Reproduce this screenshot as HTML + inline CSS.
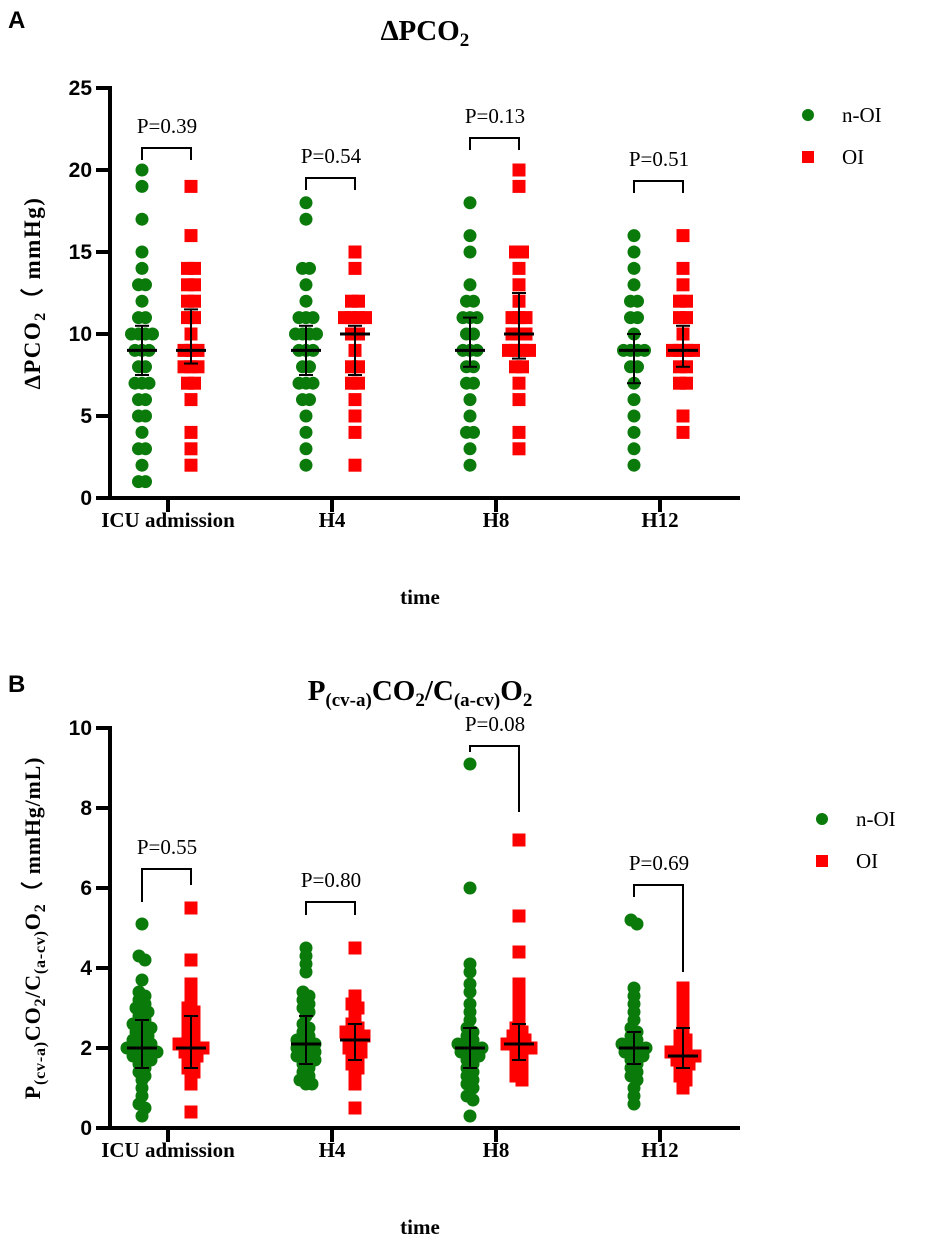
<!DOCTYPE html>
<html><head><meta charset="utf-8">
<style>
body{margin:0;background:#fff;}
svg{display:block;}
.tick{font-family:"Liberation Sans",Arial,sans-serif;font-weight:bold;font-size:21px;}
.ser{font-family:"Liberation Serif",serif;}
</style></head>
<body>
<svg id="chart" width="945" height="1243" viewBox="0 0 945 1243" xmlns="http://www.w3.org/2000/svg"></svg>
<script>
const categories = ["ICU admission","H4","H8","H12"];
// Panel A data (ΔPCO2 mmHg)
const aGreen = [
 [20,19,17,15,14,13,13,12,11,11,10,10,10,10,9,9,9,8,8,7,7,7,6,6,5,5,4,3,3,2,1,1],
 [18,17,14,14,13,12,11,11,11,10,10,10,10,9,9,9,8,8,7,7,7,6,6,5,4,3,2],
 [18,16,15,13,12,12,11,11,11,10,10,9,9,9,8,8,7,7,6,5,4,4,3,2],
 [16,15,14,13,12,12,11,11,10,9,9,9,9,8,8,7,6,5,4,3,2]
];
const aRed = [
 [19,16,14,14,13,13,12,12,11,11,10,9,9,9,8,8,8,7,7,6,4,3,2],
 [15,14,12,12,11,11,11,11,10,10,9,8,8,7,7,6,5,4,2],
 [20,19,15,15,14,13,12,11,11,11,10,10,10,9,9,9,9,8,8,7,6,4,3],
 [16,14,13,12,12,11,11,10,9,9,9,9,8,8,7,7,5,4]
];
const aMedG = [9,9,9,9], aMedR = [9,10,10,9];
const aLoG = [7.5,7.5,8,7], aHiG = [10.5,10.5,11,10];
const aLoR = [8.2,7.5,8.5,8], aHiR = [11.5,10.5,12.5,10.5];
const aP = ["P=0.39","P=0.54","P=0.13","P=0.51"];
const aYTicks = [0,5,10,15,20,25];
// Panel B data
const bGreen = [
 [5.1,4.3,4.2,3.7,3.4,3.3,3.2,3.1,3.0,2.9,2.8,2.7,2.6,2.5,2.5,2.4,2.3,2.2,2.1,2.0,2.0,2.0,1.9,1.9,1.8,1.8,1.7,1.6,1.5,1.4,1.3,1.2,1.0,0.8,0.6,0.5,0.3,2.1,2.2,1.9,2.4,2.6,3.0,1.7],
 [4.5,4.3,4.1,3.9,3.4,3.3,3.2,3.1,3.0,2.9,2.8,2.6,2.4,2.3,2.2,2.1,2.1,2.0,2.0,1.9,1.8,1.8,1.7,1.6,1.5,1.4,1.3,1.2,1.1,1.1,2.2,1.9,2.5,1.7],
 [9.1,6.0,4.1,3.9,3.6,3.4,3.1,2.9,2.7,2.5,2.3,2.2,2.1,2.0,2.0,1.9,1.9,1.8,1.7,1.6,1.5,1.4,1.3,1.2,1.1,1.0,0.8,0.7,0.3,2.0,2.1,1.8,2.4],
 [5.2,5.1,3.5,3.3,3.1,2.9,2.7,2.5,2.4,2.3,2.2,2.1,2.0,2.0,1.9,1.9,1.8,1.7,1.6,1.5,1.4,1.3,1.2,1.0,0.8,0.6,2.0,2.1,1.9]
];
const bRed = [
 [5.5,4.2,3.6,3.4,3.2,3.0,2.9,2.8,2.6,2.5,2.3,2.2,2.1,2.0,2.0,1.9,1.8,1.7,1.6,1.5,1.4,1.3,1.1,0.4,2.0,2.1,1.9,2.8],
 [4.5,3.3,3.1,3.0,2.8,2.6,2.5,2.4,2.3,2.2,2.2,2.1,2.0,1.9,1.8,1.7,1.6,1.5,1.4,1.1,0.5,2.3,2.0,2.4],
 [7.2,5.3,4.4,3.6,3.4,3.2,2.9,2.7,2.5,2.4,2.3,2.2,2.1,2.0,2.0,1.9,1.8,1.7,1.6,1.5,1.4,1.3,1.2,2.2,2.0,2.1],
 [3.5,3.3,3.1,2.9,2.7,2.5,2.3,2.1,2.0,1.9,1.8,1.8,1.7,1.7,1.6,1.5,1.4,1.3,1.2,1.0,1.9,1.8,2.2]
];
const bMedG = [2.0,2.1,2.0,2.0], bMedR = [2.0,2.2,2.1,1.8];
const bLoG = [1.5,1.6,1.5,1.6], bHiG = [2.7,2.8,2.5,2.4];
const bLoR = [1.5,1.7,1.7,1.5], bHiR = [2.8,2.6,2.6,2.5];
const bP = ["P=0.55","P=0.80","P=0.08","P=0.69"];
const bYTicks = [0,2,4,6,8,10];

const NS="http://www.w3.org/2000/svg";
const svg=document.getElementById('chart');
function el(tag,attrs,parent){const e=document.createElementNS(NS,tag);for(const k in attrs)e.setAttribute(k,attrs[k]);(parent||svg).appendChild(e);return e;}
function txt(s,attrs,parent){const e=el('text',attrs,parent);e.textContent=s;return e;}

function swarm(vals,cx,y,d,dx){
  const sorted=vals.slice().sort((a,b)=>b-a);
  const rows=[];
  sorted.forEach(v=>{
    const py=y(v);
    const last=rows[rows.length-1];
    if(last && Math.abs(last.y0-py)<d) last.pts.push(py); else rows.push({y0:py,pts:[py]});
  });
  const out=[];
  rows.forEach(r=>{
    const n=r.pts.length;
    r.pts.forEach((py,k)=>out.push([cx+(k-(n-1)/2)*dx,py]));
  });
  return out;
}

function panel(cfg){
  const g=el('g',{});
  
  
  const y=v=>cfg.y0-(v-cfg.ymin)/(cfg.ymax-cfg.ymin)*(cfg.y0-cfg.ytop);
  const xc=i=>168+i*164;
  const ya=el('line',{x1:110,y1:cfg.ytop-2,x2:110,y2:cfg.y0+2,stroke:'#000','stroke-width':4},g);
  
  const xa=el('line',{x1:108,y1:cfg.y0,x2:740,y2:cfg.y0,stroke:'#000','stroke-width':4},g);
  
  cfg.ticks.forEach(t=>{
    el('line',{x1:96,y1:y(t),x2:110,y2:y(t),stroke:'#000','stroke-width':4},g);
    const tl=txt(String(t),{x:92,y:y(t)+7,'text-anchor':'end',class:'tick'},g);
    
  });
  categories.forEach((c,i)=>{
    el('line',{x1:xc(i),y1:cfg.y0,x2:xc(i),y2:cfg.y0+14,stroke:'#000','stroke-width':4},g);
    const l=txt(c,{x:xc(i),y:cfg.y0+29,'text-anchor':'middle',class:'ser','font-size':'21','font-weight':'bold'},g);
    
    swarm(cfg.green[i],xc(i)-26,y,cfg.d,cfg.dx).forEach(p=>{
      const m=el('circle',{cx:p[0],cy:p[1],r:6.5,fill:'#0a7a0a'},g);
      
    });
    swarm(cfg.red[i],xc(i)+23,y,cfg.d,cfg.dx).forEach(p=>{
      const m=el('rect',{x:p[0]-6.5,y:p[1]-6.5,width:13,height:13,fill:'#ff0000'},g);
      
    });
    [[xc(i)-26,cfg.medG[i],cfg.loG[i],cfg.hiG[i]],[xc(i)+23,cfg.medR[i],cfg.loR[i],cfg.hiR[i]]].forEach(a=>{
      const eb=el('g',{},g);
      
      el('line',{x1:a[0],y1:y(a[2]),x2:a[0],y2:y(a[3]),stroke:'#000','stroke-width':2},eb);
      el('line',{x1:a[0]-15,y1:y(a[1]),x2:a[0]+15,y2:y(a[1]),stroke:'#000','stroke-width':3},eb);
      el('line',{x1:a[0]-7,y1:y(a[2]),x2:a[0]+7,y2:y(a[2]),stroke:'#000','stroke-width':2},eb);
      el('line',{x1:a[0]-7,y1:y(a[3]),x2:a[0]+7,y2:y(a[3]),stroke:'#000','stroke-width':2},eb);
    });
    const br=cfg.br[i];
    const bk=el('path',{d:`M${xc(i)-26},${br[1]} V${br[0]} H${xc(i)+23} V${br[2]}`,fill:'none',stroke:'#000','stroke-width':2},g);
    
    const pt=txt(cfg.p[i],{x:xc(i)-1,y:br[0]-15,'text-anchor':'middle',class:'ser','font-size':'21'},g);
    
  });
  const tt=txt('time',{x:420,y:cfg.y0+106,'text-anchor':'middle',class:'ser','font-size':'21','font-weight':'bold'},g);
  
  const lg=el('g',{},g);
  
  el('circle',{cx:cfg.legX,cy:cfg.legY,r:6,fill:'#0a7a0a'},lg);
  txt('n-OI',{x:cfg.legX+34,y:cfg.legY+7,class:'ser','font-size':'21'},lg);
  el('rect',{x:cfg.legX-6,y:cfg.legY+36,width:12,height:12,fill:'#ff0000'},lg);
  txt('OI',{x:cfg.legX+34,y:cfg.legY+49,class:'ser','font-size':'21'},lg);
}

panel({name:'panel-a',y0:498,ytop:88,ymin:0,ymax:25,ticks:aYTicks,d:8,dx:7,
  green:aGreen,red:aRed,medG:aMedG,medR:aMedR,loG:aLoG,hiG:aHiG,loR:aLoR,hiR:aHiR,p:aP,
  br:[[148,160,160],[178,190,190],[138,150,150],[181,193,193]],legX:808,legY:115});
panel({name:'panel-b',y0:1128,ytop:728,ymin:0,ymax:10,ticks:bYTicks,d:5,dx:6,
  green:bGreen,red:bRed,medG:bMedG,medR:bMedR,loG:bLoG,hiG:bHiG,loR:bLoR,hiR:bHiR,p:bP,
  br:[[869,902,885],[902,915,915],[746,752,812],[885,897,972]],legX:822,legY:819});

let t;
t=txt('A',{x:8,y:28,'font-family':'Liberation Sans, Arial, sans-serif','font-weight':'bold','font-size':'24'});

t=txt('B',{x:8,y:692,'font-family':'Liberation Sans, Arial, sans-serif','font-weight':'bold','font-size':'24'});

t=el('text',{x:425,y:40,'text-anchor':'middle',class:'ser','font-size':'29','font-weight':'bold'});
t.innerHTML='∆PCO<tspan font-size="19" dy="6">2</tspan>';

t=el('text',{x:420,y:700,'text-anchor':'middle',class:'ser','font-size':'29','font-weight':'bold'});
t.innerHTML='P<tspan font-size="19" dy="6">(cv-a)</tspan><tspan dy="-6">CO</tspan><tspan font-size="19" dy="6">2</tspan><tspan dy="-6">/C</tspan><tspan font-size="19" dy="6">(a-cv)</tspan><tspan dy="-6">O</tspan><tspan font-size="19" dy="6">2</tspan>';

t=el('text',{transform:'translate(40,293) rotate(-90)','text-anchor':'middle',class:'ser','font-size':'23','font-weight':'bold','letter-spacing':'1.5'});
t.innerHTML='∆PCO<tspan font-size="16" dy="5">2</tspan><tspan dy="-5">（ mmHg)</tspan>';

t=el('text',{transform:'translate(40,928) rotate(-90)','text-anchor':'middle',class:'ser','font-size':'22','font-weight':'bold','letter-spacing':'0.8'});
t.innerHTML='P<tspan font-size="16" dy="5">(cv-a)</tspan><tspan dy="-5">CO</tspan><tspan font-size="16" dy="5">2</tspan><tspan dy="-5">/C</tspan><tspan font-size="16" dy="5">(a-cv)</tspan><tspan dy="-5">O</tspan><tspan font-size="16" dy="5">2</tspan><tspan dy="-5">（ mmHg/mL)</tspan>';

</script>
</body></html>
